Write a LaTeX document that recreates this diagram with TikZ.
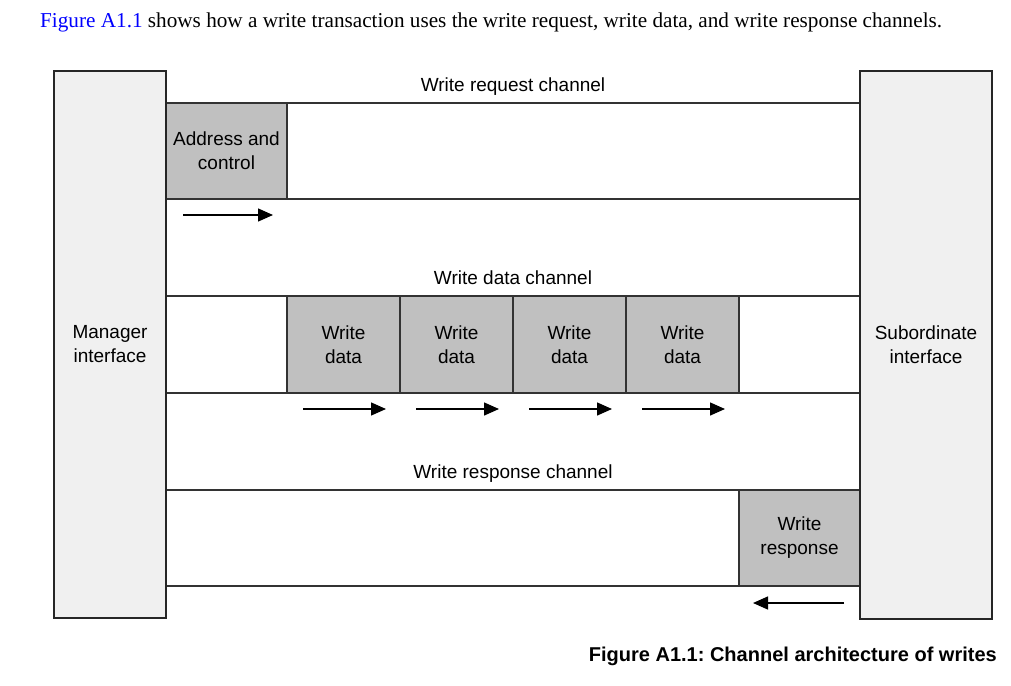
\documentclass[tikz,border=0pt]{standalone}
\usepackage{fontspec}
\setmainfont{Liberation Serif}
\newfontfamily\arialfont{Liberation Sans}
\usetikzlibrary{arrows.meta}
\frenchspacing

\definecolor{edgegray}{HTML}{333333}
\definecolor{ifacegray}{HTML}{F0F0F0}
\definecolor{beatgray}{HTML}{C0C0C0}
\definecolor{refblue}{HTML}{0000FF}

\tikzset{
  diag/.style={font=\arialfont\fontsize{19}{24}\selectfont, inner sep=0pt, outer sep=0pt},
  iface/.style={diag, draw=black!85, line width=1.6pt, fill=ifacegray, align=center, anchor=north west},
  chan/.style={diag, draw=edgegray, line width=1.2pt, anchor=north west, minimum width=694pt},
  beat/.style={diag, draw=edgegray, line width=1.2pt, fill=beatgray, align=center, anchor=north west},
  flow/.style={line width=1.4pt, -{Triangle[length=15pt,width=13pt]}},
}

\begin{document}
\begin{tikzpicture}[x=1pt, y=-1pt]
			%%%%% START %%%%%
			\useasboundingbox (0, 0) rectangle (1011, 685);
			
			\node[anchor=base west, inner sep=0pt, font=\fontsize{21.2}{25}\selectfont] (intro) at (40, 28)
				{\textcolor{refblue}{Figure A1.1} shows how a write transaction uses the write request, write data, and write response channels.};
			
			% channels
			\node[chan, minimum height=96pt] (reqchan) at (166, 103) {};
			\node[chan, minimum height=97pt] (datachan) at (166, 296) {};
			\node[chan, minimum height=96pt] (respchan) at (166, 490) {};
			
			\node[diag, anchor=base] (reqlabel) at (513, 91) {Write request channel};
			\node[diag, anchor=base] (datalabel) at (513, 284) {Write data channel};
			\node[diag, anchor=base] (resplabel) at (513, 478) {Write response channel};
			
			% payloads
			\node[beat, minimum width=121pt, minimum height=96pt] (addr) at (166, 103) {Address and\\control};
			
			\node[beat, minimum width=113pt, minimum height=97pt] (wd1) at (287, 296) {Write\\data};
			\node[beat, minimum width=113pt, minimum height=97pt] (wd2) at (400, 296) {Write\\data};
			\node[beat, minimum width=113pt, minimum height=97pt] (wd3) at (513, 296) {Write\\data};
			\node[beat, minimum width=113pt, minimum height=97pt] (wd4) at (626, 296) {Write\\data};
			
			\node[beat, minimum width=121pt, minimum height=96pt] (resp) at (739, 490) {Write\\response};
			
			% interfaces
			\node[iface, minimum width=112pt, minimum height=547pt] (mgr) at (54, 71) {Manager\\interface};
			\node[iface, minimum width=132pt, minimum height=548pt] (sub) at (860, 71) {Subordinate\\interface};
			
			% direction arrows
			\coordinate (addr-a) at ([shift={(17, 16)}]addr.south west);
			\coordinate (addr-b) at ([shift={(107, 16)}]addr.south west);
			\draw[flow] (addr-a) -- (addr-b);
			
			\coordinate (wd1-a) at ([shift={(16, 16)}]wd1.south west);
			\coordinate (wd1-b) at ([shift={(99, 16)}]wd1.south west);
			\draw[flow] (wd1-a) -- (wd1-b);
			\coordinate (wd2-a) at ([shift={(16, 16)}]wd2.south west);
			\coordinate (wd2-b) at ([shift={(99, 16)}]wd2.south west);
			\draw[flow] (wd2-a) -- (wd2-b);
			\coordinate (wd3-a) at ([shift={(16, 16)}]wd3.south west);
			\coordinate (wd3-b) at ([shift={(99, 16)}]wd3.south west);
			\draw[flow] (wd3-a) -- (wd3-b);
			\coordinate (wd4-a) at ([shift={(16, 16)}]wd4.south west);
			\coordinate (wd4-b) at ([shift={(99, 16)}]wd4.south west);
			\draw[flow] (wd4-a) -- (wd4-b);
			
			\coordinate (resp-a) at ([shift={(-16, 17)}]resp.south east);
			\coordinate (resp-b) at ([shift={(14, 17)}]resp.south west);
			\draw[flow] (resp-a) -- (resp-b);
			
			\node[anchor=base east, inner sep=0pt, font=\arialfont\bfseries\fontsize{20}{24}\selectfont] (caption) at (997, 661)
				{Figure A1.1: Channel architecture of writes};
			%%%%% END %%%%%
\end{tikzpicture}
\end{document}
